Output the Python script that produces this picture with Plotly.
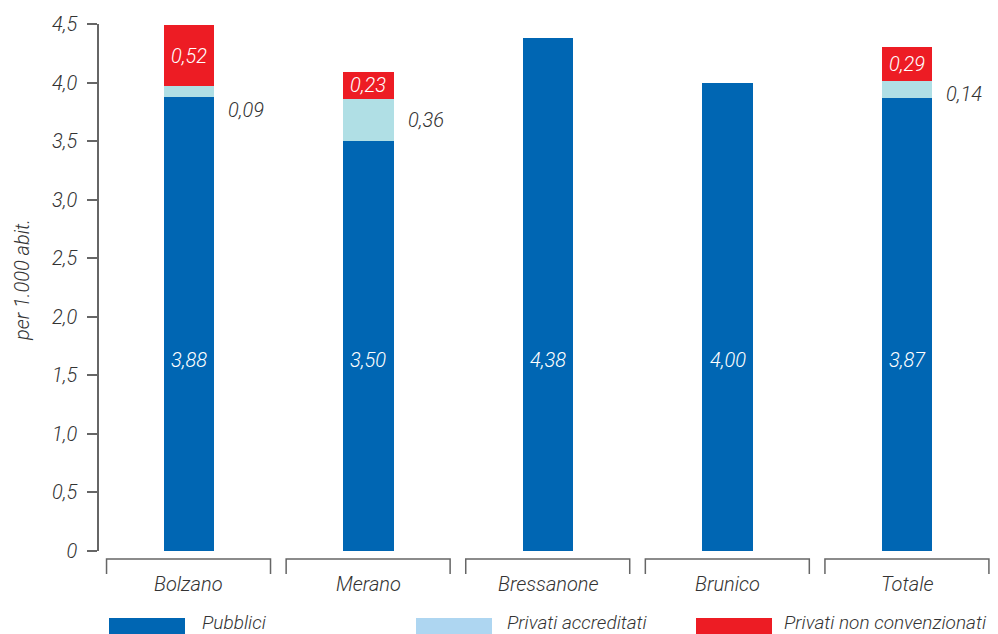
import plotly.graph_objects as go

categories = ["Bolzano", "Merano", "Bressanone", "Brunico", "Totale"]
pubblici = [3.88, 3.50, 4.38, 4.00, 3.87]
privati_accreditati = [0.09, 0.36, None, None, 0.14]
privati_non_conv = [0.52, 0.23, None, None, 0.29]
tick_vals = [0, 0.5, 1.0, 1.5, 2.0, 2.5, 3.0, 3.5, 4.0, 4.5]
tick_text = ["0", "0,5", "1,0", "1,5", "2,0", "2,5", "3,0", "3,5", "4,0", "4,5"]
series_names = ["Pubblici", "Privati accreditati", "Privati non convenzionati"]

BLUE = "#0066B3"
LIGHT = "#B0DFE5"
LEGEND_LIGHT = "#AED6F1"
RED = "#ED1C24"
TXT = "#333333"
AXIS = "#666666"
FAM = "Roboto, Liberation Sans Narrow, sans-serif"

def F(size, color=TXT):
    return dict(family=FAM, size=size, color=color, style="italic", weight=300)

def fmt(v):
    return f"{v:.2f}".replace(".", ",")

BW = 0.28
fig = go.Figure()
fig.add_bar(x=categories, y=pubblici, name=series_names[0], marker_color=BLUE,
            width=BW, marker_line_width=0)
fig.add_bar(x=categories, y=[v or 0 for v in privati_accreditati], name=series_names[1],
            marker_color=LIGHT, width=BW, marker_line_width=0)
fig.add_bar(x=categories, y=[v or 0 for v in privati_non_conv], name=series_names[2],
            marker_color=RED, width=BW, marker_line_width=0)

ann = []
label_y_inside = 1.63
acc_yshift = [-19, 0, 0, 0, -4]
for i, c in enumerate(categories):
    ann.append(dict(x=i, y=label_y_inside, xref="x", yref="y", text=fmt(pubblici[i]),
                    showarrow=False, font=F(20, "white"),
                    xanchor="center", yanchor="middle"))
    if privati_accreditati[i]:
        a = privati_accreditati[i]
        ann.append(dict(x=i + BW / 2, y=pubblici[i] + a / 2, xref="x", yref="y", text=fmt(a),
                        showarrow=False, font=F(20),
                        xanchor="left", yanchor="middle", xshift=12, yshift=acc_yshift[i]))
    if privati_non_conv[i]:
        r = privati_non_conv[i]
        base = pubblici[i] + (privati_accreditati[i] or 0)
        ann.append(dict(x=i, y=base + r / 2, xref="x", yref="y", text=fmt(r),
                        showarrow=False, font=F(20, "white"),
                        xanchor="center", yanchor="middle"))
    ann.append(dict(x=i, y=-0.0626, xref="x", yref="paper", text=c, showarrow=False,
                    font=F(20), xanchor="center", yanchor="middle"))

shapes = []
yb1, yb2 = -0.0152, -0.0436
for i, c in enumerate(categories):
    x0, x1 = i - 0.458, i + 0.455
    shapes.append(dict(type="path", xref="x", yref="paper",
                       path=f"M {x0} {yb2} L {x0} {yb1} L {x1} {yb1} L {x1} {yb2}",
                       line=dict(color=AXIS, width=1.5)))

# custom legend
leg_y = -0.1423
leg_h = 0.0304
sw = [(109, 185, 200, BLUE), (416, 492, 505, LEGEND_LIGHT), (696, 772, 782, RED)]
px = lambda p: (p - 99) / 898
for (sx0, sx1, tx, col), name in zip(sw, series_names):
    shapes.append(dict(type="rect", xref="paper", yref="paper", x0=px(sx0), x1=px(sx1),
                       y0=leg_y - leg_h / 2, y1=leg_y + leg_h / 2, fillcolor=col,
                       line=dict(width=0)))
    ann.append(dict(x=px(tx), y=leg_y + 0.006, xref="paper", yref="paper", text=name,
                    showarrow=False, font=F(19),
                    xanchor="left", yanchor="middle"))

ann.append(dict(x=px(22), y=0.514, xref="paper", yref="paper", text="per 1.000 abit.",
                showarrow=False, textangle=-90, font=F(20),
                xanchor="center", yanchor="middle"))

fig.update_layout(
    barmode="stack", width=990, height=626,
    margin=dict(l=91, r=1, t=16, b=83),
    paper_bgcolor="white", plot_bgcolor="white",
    showlegend=False,
    annotations=ann, shapes=shapes,
    font=F(19),
    xaxis=dict(showticklabels=False, showline=False, ticks="", showgrid=False,
               range=[-0.5, 4.5], zeroline=False),
    yaxis=dict(range=[0, 4.5], tickvals=tick_vals, ticktext=tick_text, showgrid=False,
               zeroline=False, showline=True, linecolor=AXIS, linewidth=1.5,
               ticks="outside", ticklen=10, tickwidth=1.5, tickcolor=AXIS,
               ticklabelstandoff=6, tickfont=F(20)),
)
fig.write_html("out.html")
